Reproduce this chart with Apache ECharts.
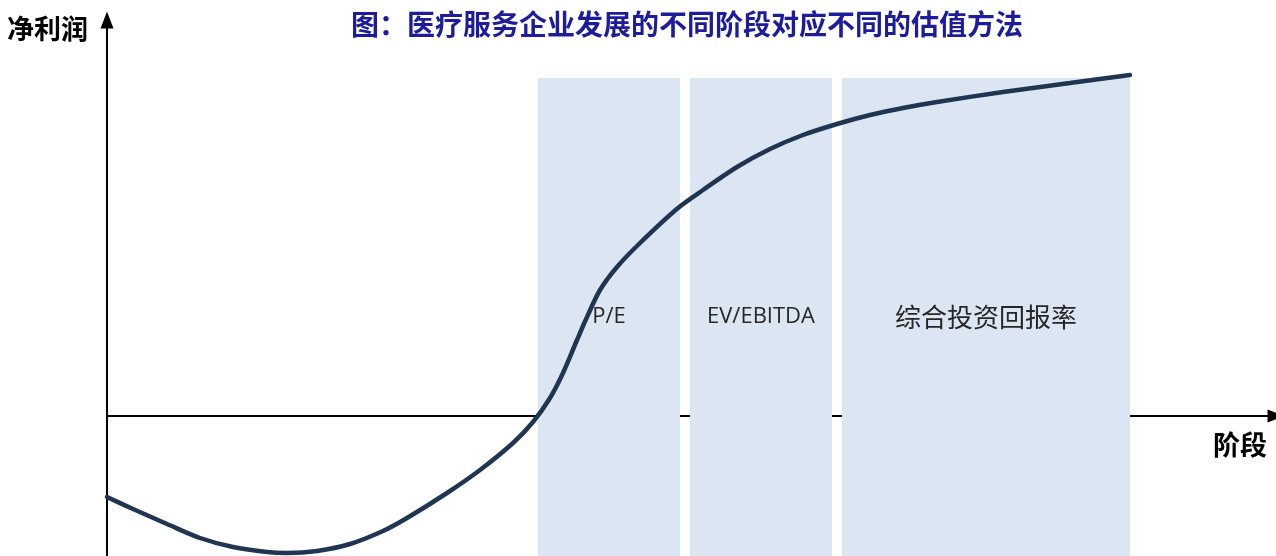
<!DOCTYPE html>
<html>
<head>
<meta charset="utf-8">
<script src="https://cdn.jsdelivr.net/npm/echarts@6/dist/echarts.min.js"></script>
<style>
html,body{margin:0;padding:0;background:#fff;}
#chart{width:1276px;height:556px;}
</style>
</head>
<body>
<div id="chart"></div>
<script>
// Stage position (x) and net profit (y), in chart units
const stageX = [0, 26, 60, 93, 126, 160, 180, 210, 243, 276, 300, 340, 373, 406, 426, 443, 456, 470, 480, 493, 510, 533, 571, 596, 630, 663, 696, 730, 763, 796, 830, 896, 963, 1023];
const profitY = [-81, -93, -108, -122, -131, -136, -137, -135, -128, -115, -102, -77, -54, -27, -6, 18, 43, 76, 99, 126, 149, 173, 208, 226, 249, 267, 281, 292, 301, 308, 314, 324, 333, 341];
// Valuation method bands: [start, end] on the stage axis
const bandNames = ['P/E', 'EV/EBITDA', '综合投资回报率'];
const bandStart = [431, 583, 735];
const bandEnd = [573, 725, 1023];
const bandTop = 338;

const titleText = '图：医疗服务企业发展的不同阶段对应不同的估值方法';
const yName = '净利润';
const xName = '阶段';

const chart = echarts.init(document.getElementById('chart'));
const areaData = bandNames.map((n, i) => [
  { name: n, xAxis: bandStart[i], yAxis: bandTop,
    label: { fontFamily: i === 2 ? 'Noto Sans CJK SC' : 'Open Sans', fontSize: i === 2 ? 26 : 22 } },
  { xAxis: bandEnd[i], yAxis: -140 }
]);

chart.setOption({
  animation: false,
  backgroundColor: '#ffffff',
  title: {
    text: titleText,
    left: 682, top: 5,
    textAlign: 'center',
    textStyle: { color: '#1c1c9c', fontSize: 28, fontWeight: 'bold', fontFamily: 'Noto Sans CJK SC' }
  },
  graphic: [
    { type: 'text', left: 7, top: 15,
      style: { text: yName, fontSize: 27, fontWeight: 'bold', fill: '#000', fontFamily: 'Noto Sans CJK SC' } },
    { type: 'text', left: 1213, top: 431,
      style: { text: xName, fontSize: 27, fontWeight: 'bold', fill: '#000', fontFamily: 'Noto Sans CJK SC' } }
  ],
  grid: { left: 107, right: 0, top: 20, bottom: 0 },
  xAxis: {
    type: 'value', min: 0, max: 1169,
    axisLine: { onZero: true, symbol: ['none', 'triangle'], symbolSize: [13, 17], lineStyle: { color: '#000', width: 2 } },
    axisTick: { show: false }, axisLabel: { show: false }, splitLine: { show: false }
  },
  yAxis: {
    type: 'value', min: -140, max: 396,
    axisLine: { show: true, onZero: true, symbol: ['none', 'triangle'], symbolSize: [13, 17], lineStyle: { color: '#000', width: 2 } },
    axisTick: { show: false }, axisLabel: { show: false }, splitLine: { show: false }
  },
  series: [
    {
      type: 'line', z: 1, data: [], silent: true,
      markArea: {
        silent: true,
        itemStyle: { color: '#dce6f2' },
        label: { show: true, position: 'inside', color: '#262626', verticalAlign: 'middle', align: 'center' },
        data: areaData
      }
    },
    {
      type: 'line', z: 3,
      data: stageX.map((x, i) => [x, profitY[i]]),
      smooth: 0.3,
      showSymbol: false,
      lineStyle: { color: '#1f3551', width: 4.5, cap: 'round' }
    }
  ]
});
</script>
</body>
</html>
